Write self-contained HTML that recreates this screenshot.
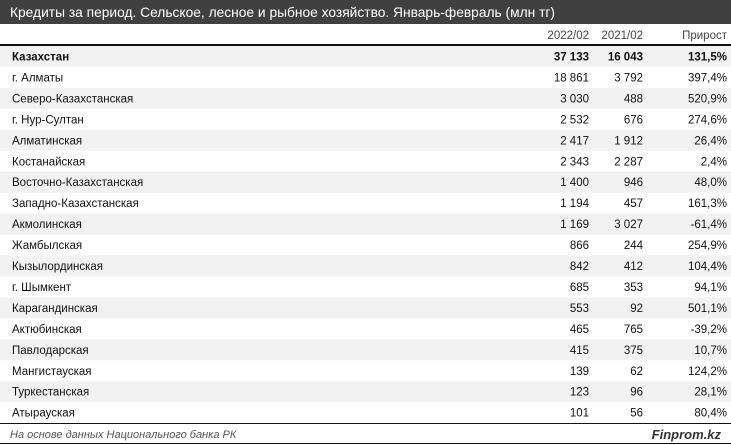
<!DOCTYPE html>
<html><head><meta charset="utf-8"><style>
html,body{margin:0;padding:0;background:#fff}
svg{display:block}
text{font-family:"Liberation Sans",sans-serif;font-size:11.5px;fill:#111}
.r{text-anchor:end}
</style></head><body>
<svg width="731" height="445" xmlns="http://www.w3.org/2000/svg">
<rect x="0" y="0" width="731" height="24" fill="#404040"/>
<text x="10" y="17" style="font-size:14px;fill:#fff" textLength="545" lengthAdjust="spacingAndGlyphs">Кредиты за период. Сельское, лесное и рыбное хозяйство. Январь-февраль (млн тг)</text>
<text x="589" y="39" class="r" style="fill:#444">2022/02</text>
<text x="643" y="39" class="r" style="fill:#444">2021/02</text>
<text x="727" y="39" class="r" style="fill:#444">Прирост</text>
<rect x="0" y="44" width="731" height="2" fill="#111"/>
<g id="rows"></g>
<rect x="0" y="423" width="731" height="1" fill="#111"/>
<text x="10" y="438" style="font-style:italic;fill:#555;font-size:11px">На основе данных Национального банка РК</text>
<text x="721" y="439" class="r" style="font-style:italic;font-weight:bold;fill:#333;font-size:13px">Finprom.kz</text>
<rect x="0" y="443" width="731" height="1" fill="#111"/>
</svg>
<script>
var d=[["Казахстан","37 133","16 043","131,5%"],["г. Алматы","18 861","3 792","397,4%"],["Северо-Казахстанская","3 030","488","520,9%"],["г. Нур-Султан","2 532","676","274,6%"],["Алматинская","2 417","1 912","26,4%"],["Костанайская","2 343","2 287","2,4%"],["Восточно-Казахстанская","1 400","946","48,0%"],["Западно-Казахстанская","1 194","457","161,3%"],["Акмолинская","1 169","3 027","-61,4%"],["Жамбылская","866","244","254,9%"],["Кызылординская","842","412","104,4%"],["г. Шымкент","685","353","94,1%"],["Карагандинская","553","92","501,1%"],["Актюбинская","465","765","-39,2%"],["Павлодарская","415","375","10,7%"],["Мангистауская","139","62","124,2%"],["Туркестанская","123","96","28,1%"],["Атырауская","101","56","80,4%"]];
var g=document.getElementById("rows"),s="";
d.forEach(function(r,i){var y=46+i*20.95,b=i==0?' style="font-weight:bold"':'';
if(i%2==0)s+='<rect x="0" y="'+y+'" width="731" height="20.95" fill="#f2f2f2"/>';
var ty=y+14.5;
s+='<text x="12" y="'+ty+'"'+b+'>'+r[0]+'</text>';
s+='<text x="589" y="'+ty+'" class="r"'+b+'>'+r[1]+'</text>';
s+='<text x="643" y="'+ty+'" class="r"'+b+'>'+r[2]+'</text>';
s+='<text x="727" y="'+ty+'" class="r"'+b+'>'+r[3]+'</text>';});
g.innerHTML=s;
</script>
</body></html>
